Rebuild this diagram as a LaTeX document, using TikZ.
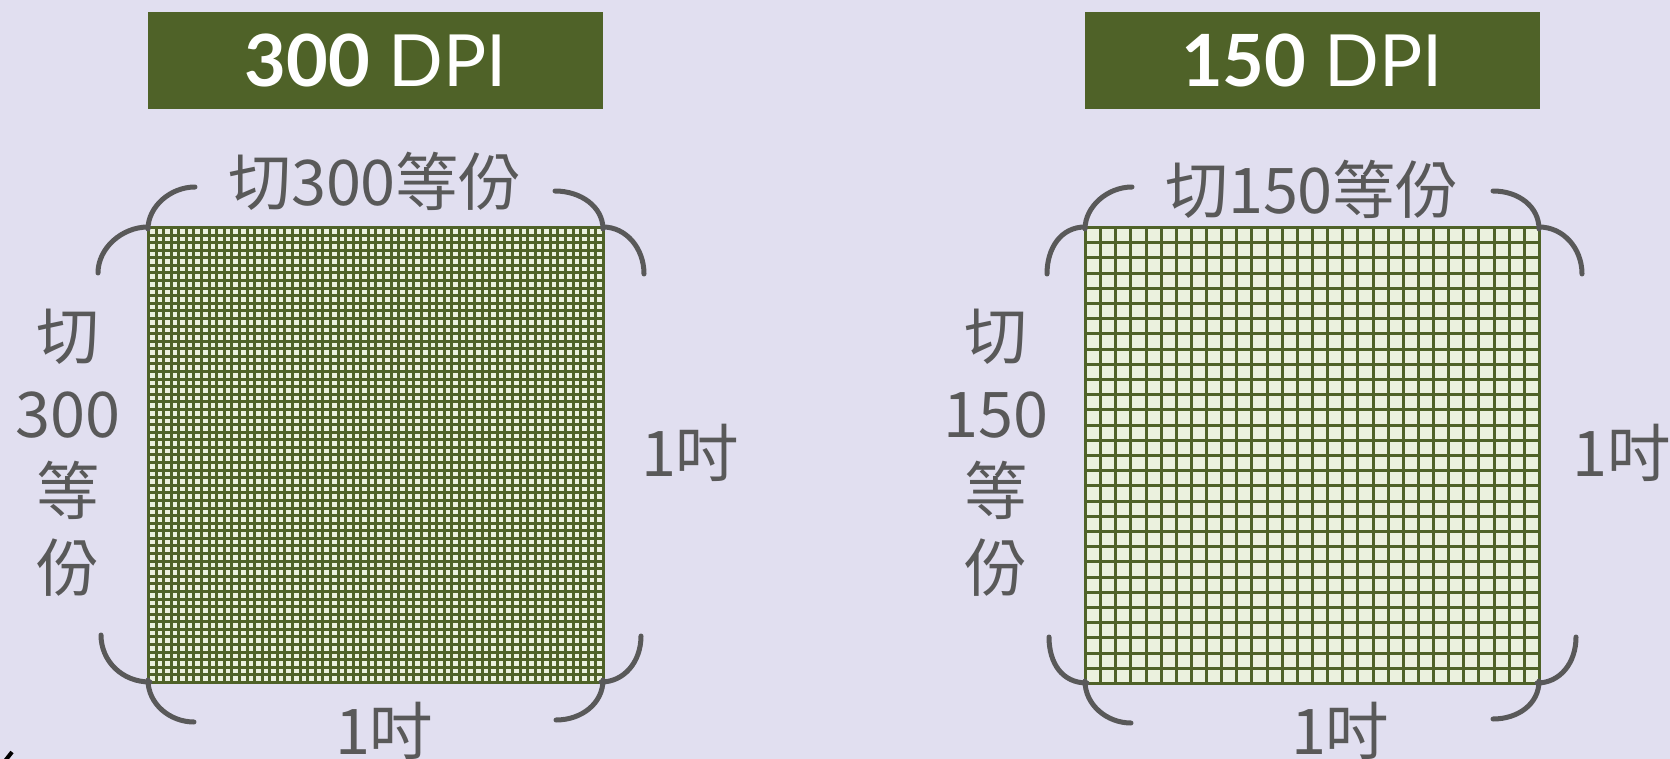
\documentclass[tikz,border=0pt]{standalone}
\usepackage{fontspec}
\newfontfamily\cjk{Noto Sans CJK TC}
\newfontfamily\titlef{Lato}
\definecolor{bg}{HTML}{E1DFF0}
\definecolor{olive}{HTML}{4F6228}
\definecolor{cell}{HTML}{EBF1DE}
\definecolor{lbl}{HTML}{595959}
\tikzset{
  titlebox/.style={fill=olive,draw=none,minimum width=455pt,minimum height=97pt,inner sep=0pt,text=white,font=\titlef\fontsize{72}{72}\selectfont},
  lab/.style={inner sep=0pt,text=lbl,font=\cjk\fontsize{63}{63}\selectfont},
  brace/.style={draw=lbl,line width=5pt,line cap=round},
  gline/.style={draw=olive},
}
\begin{document}
\begin{tikzpicture}[x=1pt,y=-1pt]
\fill[bg] (0,0) rectangle (1670,759);
\useasboundingbox (0,0) rectangle (1670,759);
% titles
\node[titlebox] (t1) at (375.5,60.5) {{\bfseries 300} DPI};
\node[titlebox] (t2) at (1312,60.5) {{\bfseries 150} DPI};
% left grid (60 x 60)
\fill[cell] (148,227) rectangle (603,682);
\foreach \i in {0,...,60}{
  \pgfmathsetmacro\gx{round(148+\i*7.58333)+0.5}
  \pgfmathsetmacro\gy{round(227+\i*7.58333)+0.5}
  \draw[gline,line width=2.8pt] (\gx,227) -- (\gx,683);
  \draw[gline,line width=2.8pt] (148,\gy) -- (604,\gy);
}
% right grid (30 x 30)
\fill[cell] (1085,227.5) rectangle (1539,683);
\foreach \i in {0,...,30}{
  \pgfmathsetmacro\gx{round(1085+\i*15.1333)+0.5}
  \pgfmathsetmacro\gy{round(227+\i*15.2)+0.5}
  \draw[gline,line width=2.6pt] (\gx,227.5) -- (\gx,683.5);
  \draw[gline,line width=2.6pt] (1085.5,\gy) -- (1540,\gy);
}
\draw[gline,line width=3.4pt] (1312.5,227.5) -- (1312.5,683.5);
\draw[gline,line width=3.4pt] (1085.5,455.5) -- (1540,455.5);
% brackets left grid
\draw[brace] (148,229) .. controls (148,207) and (170,187) .. (195,187);
\draw[brace] (148,227) .. controls (122,227) and (98,248) .. (98,273);
\draw[brace] (555,191) .. controls (581,191) and (603,207) .. (603,229);
\draw[brace] (603,227) .. controls (626,227) and (644,248) .. (644,274);
\draw[brace] (101,635) .. controls (101,661) and (122,682) .. (150,682);
\draw[brace] (148,680) .. controls (148,704) and (170,722) .. (194,722);
\draw[brace] (641,636) .. controls (641,662) and (624,682) .. (601,682);
\draw[brace] (603,680) .. controls (603,703) and (582,720) .. (556,720);
% brackets right grid
\draw[brace] (1085,229) .. controls (1085,207) and (1107,187) .. (1132,187);
\draw[brace] (1085,227) .. controls (1061,227) and (1047,248) .. (1047,274);
\draw[brace] (1493,191) .. controls (1519,191) and (1539,207) .. (1539,229);
\draw[brace] (1539,227) .. controls (1563,227) and (1582,248) .. (1582,274);
\draw[brace] (1049,637) .. controls (1049,663) and (1062,683) .. (1087,683);
\draw[brace] (1085,681) .. controls (1085,705) and (1107,723) .. (1131,723);
\draw[brace] (1576,637) .. controls (1576,663) and (1560,683) .. (1537,683);
\draw[brace] (1539,681) .. controls (1539,704) and (1518,719) .. (1493,719);
% labels left
\node[lab] (top1) at (375,181) {切300等份};
\node[lab] (v1a) at (68,337) {切};
\node[lab] (v1b) at (68,415) {300};
\node[lab] (v1c) at (68,490) {等};
\node[lab] (v1d) at (68,568) {份};
\node[lab] (r1) at (690,453) {1吋};
\node[lab] (b1) at (384,731) {1吋};
% labels right
\node[lab] (top2) at (1312,189) {切150等份};
\node[lab] (v2a) at (996,337) {切};
\node[lab] (v2b) at (996,415) {150};
\node[lab] (v2c) at (996,490) {等};
\node[lab] (v2d) at (996,568) {份};
\node[lab] (r2) at (1621,453) {1吋};
\node[lab] (b2) at (1340,731) {1吋};
% small stray mark
\draw[black,line width=4pt] (5,761) -- (12,752);
\end{tikzpicture}
\end{document}
